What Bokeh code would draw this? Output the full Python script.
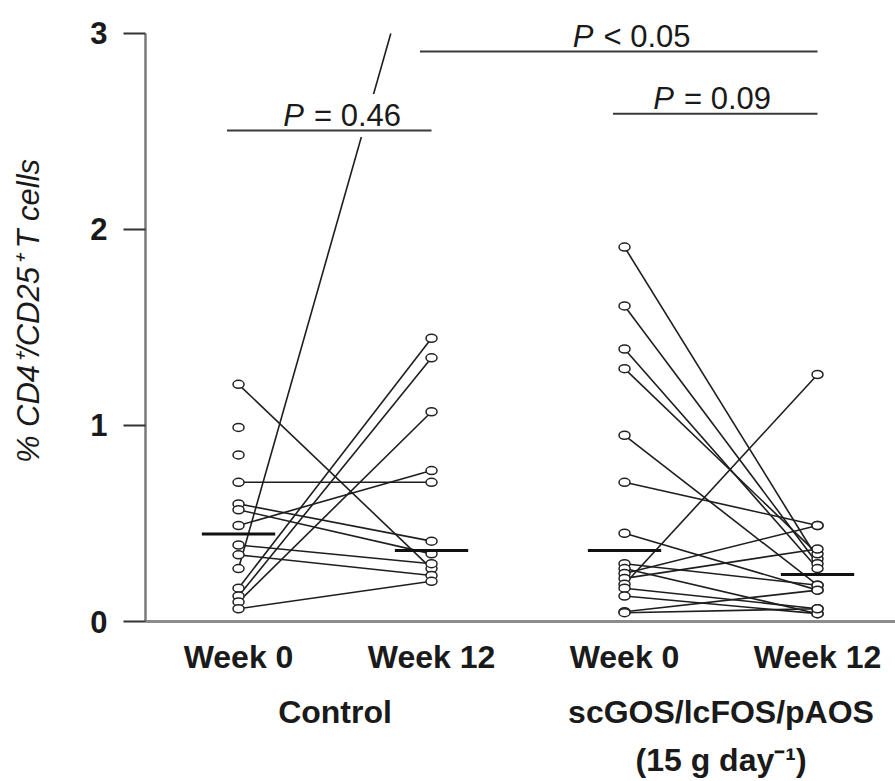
import numpy as np
from bokeh.plotting import figure
from bokeh.models import Range1d, FixedTicker, LinearAxis
from bokeh.core.properties import value
from bokeh.embed import file_html
from bokeh.resources import INLINE

# ---------------- data ----------------
group_names = ["Control", "scGOS/lcFOS/pAOS\n(15 g day\u207b\u00b9)"]
tick_labels = ["Week 0", "Week 12", "Week 0", "Week 12"]

# paired values per subject (None = no week-12 value)
control_week0 = [1.21, 0.99, 0.85, 0.71, 0.60, 0.57, 0.49, 0.39, 0.34, 0.27, 0.17, 0.13, 0.10, 0.065]
control_week12 = [0.27, None, None, 0.71, 0.41, 0.345, 0.77, 0.295, 0.235, 3.73, 1.445, 1.345, 1.07, 0.205]

treat_week0 = [1.91, 1.61, 1.39, 1.29, 0.95, 0.71, 0.45, 0.295, 0.27, 0.245, 0.22, 0.19, 0.17, 0.13, 0.05, 0.045]
treat_week12 = [0.32, 0.295, 0.27, 0.345, 0.185, 0.49, 0.16, 0.185, 0.04, 0.49, 0.37, 1.26, 0.065, 0.04, 0.16, 0.065]

medians = [0.447, 0.362, 0.362, 0.24]

p_texts = ["= 0.46", "< 0.05", "= 0.09"]
p_from = [0, 1, 2]          # index of first category spanned
p_to = [1, 3, 3]            # index of last category spanned
p_level = [2.505, 2.908, 2.59]

# ---------------- style ----------------
FONT = "Liberation Sans"
label_shift_px = [0, 0, -16]
cat_x = [1, 2, 3, 4]
y_top = 3.0

p = figure(width=895, height=781, output_backend="svg", toolbar_location=None,
           x_range=Range1d(0.518, 4.404), y_range=Range1d(0, 3.168),
           min_border_left=145, min_border_right=0, min_border_top=0,
           min_border_bottom=160)
p.outline_line_color = None
p.xgrid.visible = False
p.ygrid.visible = False
p.background_fill_color = "white"
p.border_fill_color = "white"

# connecting lines
def pair_segments(w0, w12, xa, xb):
    x0s, y0s, x1s, y1s = [], [], [], []
    for a, b in zip(w0, w12):
        if b is None:
            continue
        xe, ye = xb, b
        if b > y_top:
            t = (y_top - a) / (b - a)
            xe, ye = xa + t * (xb - xa), y_top
        x0s.append(xa); y0s.append(a); x1s.append(xe); y1s.append(ye)
    return x0s, y0s, x1s, y1s

for w0, w12, xa, xb in [(control_week0, control_week12, cat_x[0], cat_x[1]),
                        (treat_week0, treat_week12, cat_x[2], cat_x[3])]:
    x0s, y0s, x1s, y1s = pair_segments(w0, w12, xa, xb)
    p.segment(x0=x0s, y0=y0s, x1=x1s, y1=y1s, line_color="#1e1e1e", line_width=1.6)

# p-value labels
for txt, i, j, lev, sh in zip(p_texts, p_from, p_to, p_level, label_shift_px):
    mid = (cat_x[i] + cat_x[j]) / 2
    p.text(x=[mid], y=[lev], text=["P"], text_font=value(FONT), text_font_size="31px",
           text_font_style="italic", text_align="right", text_baseline="alphabetic",
           x_offset=-27 + sh, y_offset=-15, text_color="#1a1a1a",
           background_fill_color="white", padding=4)
    p.text(x=[mid], y=[lev], text=[txt], text_font=value(FONT), text_font_size="31px",
           text_align="left", text_baseline="alphabetic",
           x_offset=-25 + sh, y_offset=-15, text_color="#1a1a1a",
           background_fill_color="white", padding=4)
    p.segment(x0=[cat_x[i] - 0.06], x1=[cat_x[j] + 0.0], y0=[lev], y1=[lev],
              line_color="#3a3a3a", line_width=2)

# points
all_x, all_y = [], []
for vals, xc in [(control_week0, cat_x[0]), (control_week12, cat_x[1]),
                 (treat_week0, cat_x[2]), (treat_week12, cat_x[3])]:
    for v in vals:
        if v is not None and v <= y_top:
            all_x.append(xc); all_y.append(v)
p.ellipse(x=all_x, y=all_y, width=11, height=8, width_units="screen", height_units="screen",
          fill_color="white", line_color="#222222", line_width=1.5)

# medians
p.segment(x0=[c - 0.19 for c in cat_x], x1=[c + 0.19 for c in cat_x],
          y0=medians, y1=medians, line_color="#111111", line_width=3)

# axes
xa = p.xaxis[0]
xa.ticker = FixedTicker(ticks=cat_x)
xa.major_label_overrides = {c: t for c, t in zip(cat_x, tick_labels)}
xa.major_tick_line_color = None
xa.minor_tick_line_color = None
xa.major_tick_out = 0
xa.major_tick_in = 0
xa.axis_line_color = "#8c8c8c"
xa.axis_line_width = 3
xa.major_label_standoff = 17
xa.major_label_text_font = FONT
xa.major_label_text_font_size = "32px"
xa.major_label_text_font_style = "bold"
xa.major_label_text_color = "#1a1a1a"

group_x = [(cat_x[0] + cat_x[1]) / 2, (cat_x[2] + cat_x[3]) / 2]
ga = LinearAxis(ticker=FixedTicker(ticks=group_x),
                major_label_overrides={gx: g for gx, g in zip(group_x, group_names)})
ga.axis_line_color = None
ga.major_tick_line_color = None
ga.minor_tick_line_color = None
ga.major_tick_out = 0
ga.major_tick_in = 0
ga.major_label_standoff = 16
ga.major_label_text_font = FONT
ga.major_label_text_font_size = "32px"
ga.major_label_text_font_style = "bold"
ga.major_label_text_color = "#1a1a1a"
ga.major_label_text_line_height = 1.35
p.add_layout(ga, "below")

ya = p.yaxis[0]
ya.ticker = FixedTicker(ticks=[0, 1, 2, 3])
ya.bounds = (0, 3)
ya.minor_tick_line_color = None
ya.major_tick_out = 22
ya.major_tick_in = 0
ya.major_tick_line_color = "#333333"
ya.major_tick_line_width = 2
ya.axis_line_color = "#7a7a7a"
ya.axis_line_width = 2.5
ya.major_label_standoff = 16
ya.major_label_text_font = FONT
ya.major_label_text_font_size = "31px"
ya.major_label_text_font_style = "bold"
ya.major_label_text_color = "#1a1a1a"
ya.axis_label = "% CD4\u207a/CD25\u207a T cells"
ya.axis_label_text_font = FONT
ya.axis_label_text_font_size = "31px"
ya.axis_label_text_font_style = "italic"
ya.axis_label_text_color = "#1a1a1a"
ya.axis_label_standoff = 41

open("out.html", "w").write(file_html(p, INLINE))
